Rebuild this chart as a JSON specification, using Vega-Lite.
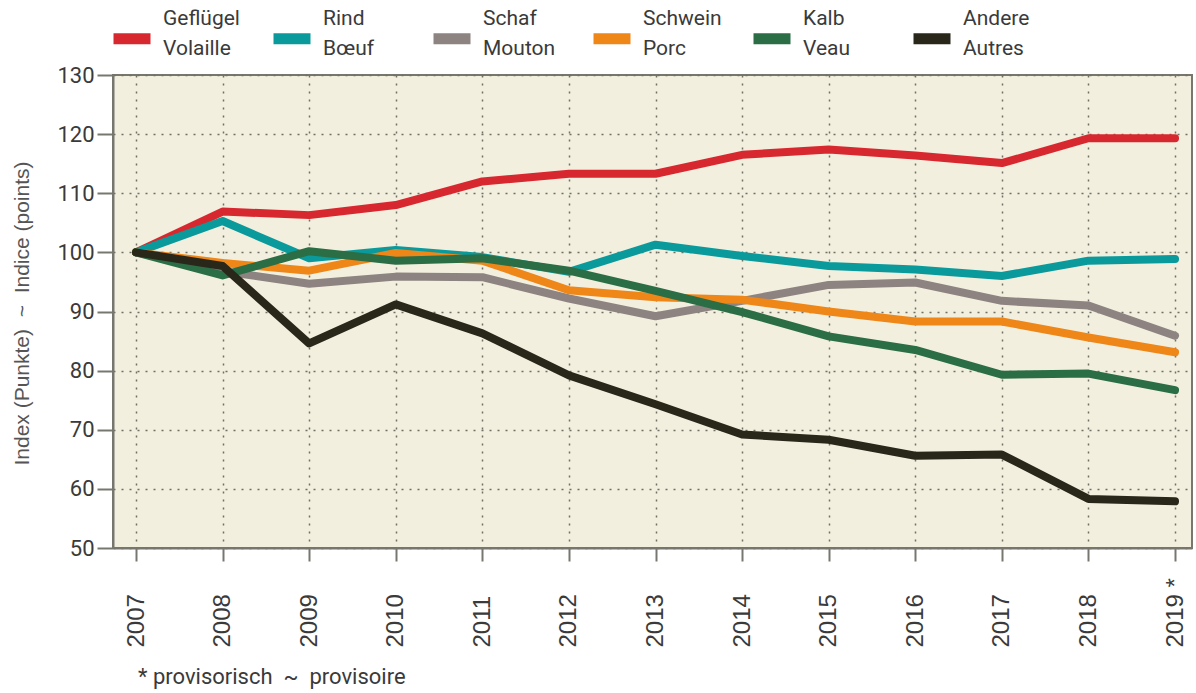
{
  "$schema": "https://vega.github.io/schema/vega-lite/v6.json",
  "width": 1079,
  "height": 473,
  "autosize": {"type": "none"},
  "padding": {"left": 113, "top": 75, "right": 4, "bottom": 145},
  "background": "white",
  "title": {
    "text": "* provisorisch\u00a0 ~ \u00a0provisoire",
    "orient": "bottom",
    "anchor": "start",
    "frame": "group",
    "dx": 25,
    "offset": 20,
    "font": "Roboto",
    "fontSize": 22,
    "fontWeight": "normal",
    "color": "#3a3a3a"
  },
  "data": {
    "values": [
      {"year": 2007, "series": "Geflügel / Volaille", "value": 100},
      {"year": 2008, "series": "Geflügel / Volaille", "value": 106.9},
      {"year": 2009, "series": "Geflügel / Volaille", "value": 106.3},
      {"year": 2010, "series": "Geflügel / Volaille", "value": 108},
      {"year": 2011, "series": "Geflügel / Volaille", "value": 112},
      {"year": 2012, "series": "Geflügel / Volaille", "value": 113.3},
      {"year": 2013, "series": "Geflügel / Volaille", "value": 113.3},
      {"year": 2014, "series": "Geflügel / Volaille", "value": 116.5},
      {"year": 2015, "series": "Geflügel / Volaille", "value": 117.4},
      {"year": 2016, "series": "Geflügel / Volaille", "value": 116.4},
      {"year": 2017, "series": "Geflügel / Volaille", "value": 115.1},
      {"year": 2018, "series": "Geflügel / Volaille", "value": 119.3},
      {"year": 2019, "series": "Geflügel / Volaille", "value": 119.3},
      {"year": 2007, "series": "Rind / Bœuf", "value": 100},
      {"year": 2008, "series": "Rind / Bœuf", "value": 105.3},
      {"year": 2009, "series": "Rind / Bœuf", "value": 99.0},
      {"year": 2010, "series": "Rind / Bœuf", "value": 100.4},
      {"year": 2011, "series": "Rind / Bœuf", "value": 99.2},
      {"year": 2012, "series": "Rind / Bœuf", "value": 96.7},
      {"year": 2013, "series": "Rind / Bœuf", "value": 101.3},
      {"year": 2014, "series": "Rind / Bœuf", "value": 99.4},
      {"year": 2015, "series": "Rind / Bœuf", "value": 97.7},
      {"year": 2016, "series": "Rind / Bœuf", "value": 97.1},
      {"year": 2017, "series": "Rind / Bœuf", "value": 96.0},
      {"year": 2018, "series": "Rind / Bœuf", "value": 98.6},
      {"year": 2019, "series": "Rind / Bœuf", "value": 98.9},
      {"year": 2007, "series": "Schaf / Mouton", "value": 100},
      {"year": 2008, "series": "Schaf / Mouton", "value": 96.8},
      {"year": 2009, "series": "Schaf / Mouton", "value": 94.7},
      {"year": 2010, "series": "Schaf / Mouton", "value": 95.9},
      {"year": 2011, "series": "Schaf / Mouton", "value": 95.8},
      {"year": 2012, "series": "Schaf / Mouton", "value": 92.2},
      {"year": 2013, "series": "Schaf / Mouton", "value": 89.2},
      {"year": 2014, "series": "Schaf / Mouton", "value": 91.8},
      {"year": 2015, "series": "Schaf / Mouton", "value": 94.5},
      {"year": 2016, "series": "Schaf / Mouton", "value": 94.9},
      {"year": 2017, "series": "Schaf / Mouton", "value": 91.8},
      {"year": 2018, "series": "Schaf / Mouton", "value": 91.0},
      {"year": 2019, "series": "Schaf / Mouton", "value": 85.9},
      {"year": 2007, "series": "Schwein / Porc", "value": 100},
      {"year": 2008, "series": "Schwein / Porc", "value": 98.2},
      {"year": 2009, "series": "Schwein / Porc", "value": 96.9},
      {"year": 2010, "series": "Schwein / Porc", "value": 99.9},
      {"year": 2011, "series": "Schwein / Porc", "value": 98.6},
      {"year": 2012, "series": "Schwein / Porc", "value": 93.6},
      {"year": 2013, "series": "Schwein / Porc", "value": 92.4},
      {"year": 2014, "series": "Schwein / Porc", "value": 92.0},
      {"year": 2015, "series": "Schwein / Porc", "value": 90.0},
      {"year": 2016, "series": "Schwein / Porc", "value": 88.3},
      {"year": 2017, "series": "Schwein / Porc", "value": 88.3},
      {"year": 2018, "series": "Schwein / Porc", "value": 85.6},
      {"year": 2019, "series": "Schwein / Porc", "value": 83.1},
      {"year": 2007, "series": "Kalb / Veau", "value": 100},
      {"year": 2008, "series": "Kalb / Veau", "value": 96.1},
      {"year": 2009, "series": "Kalb / Veau", "value": 100.2},
      {"year": 2010, "series": "Kalb / Veau", "value": 98.6},
      {"year": 2011, "series": "Kalb / Veau", "value": 99.0},
      {"year": 2012, "series": "Kalb / Veau", "value": 96.9},
      {"year": 2013, "series": "Kalb / Veau", "value": 93.5},
      {"year": 2014, "series": "Kalb / Veau", "value": 89.9},
      {"year": 2015, "series": "Kalb / Veau", "value": 85.8},
      {"year": 2016, "series": "Kalb / Veau", "value": 83.5},
      {"year": 2017, "series": "Kalb / Veau", "value": 79.3},
      {"year": 2018, "series": "Kalb / Veau", "value": 79.5},
      {"year": 2019, "series": "Kalb / Veau", "value": 76.7},
      {"year": 2007, "series": "Andere / Autres", "value": 100},
      {"year": 2008, "series": "Andere / Autres", "value": 97.7},
      {"year": 2009, "series": "Andere / Autres", "value": 84.6},
      {"year": 2010, "series": "Andere / Autres", "value": 91.2},
      {"year": 2011, "series": "Andere / Autres", "value": 86.3},
      {"year": 2012, "series": "Andere / Autres", "value": 79.2},
      {"year": 2013, "series": "Andere / Autres", "value": 74.3},
      {"year": 2014, "series": "Andere / Autres", "value": 69.2},
      {"year": 2015, "series": "Andere / Autres", "value": 68.3},
      {"year": 2016, "series": "Andere / Autres", "value": 65.6},
      {"year": 2017, "series": "Andere / Autres", "value": 65.8},
      {"year": 2018, "series": "Andere / Autres", "value": 58.3},
      {"year": 2019, "series": "Andere / Autres", "value": 57.9}
    ]
  },
  "mark": {"type": "line", "strokeWidth": 8, "strokeCap": "round", "strokeJoin": "round"},
  "encoding": {
    "x": {
      "field": "year",
      "type": "quantitative",
      "scale": {"domain": [2006.734, 2019.196], "nice": false, "zero": false},
      "axis": {
        "title": null,
        "values": [2007, 2008, 2009, 2010, 2011, 2012, 2013, 2014, 2015, 2016, 2017, 2018, 2019],
        "format": "d",
        "labelExpr": "datum.value == 2019 ? '2019 *' : datum.label",
        "labelAngle": 270,
        "labelAlign": "left",
        "labelBaseline": "middle",
        "labelPadding": 86,
        "labelFont": "Liberation Sans",
        "labelFontSize": 24,
        "labelColor": "#3a3a3a",
        "labelOverlap": false,
        "labelFlush": false,
        "tickSize": 13,
        "tickWidth": 2,
        "tickColor": "#77776f",
        "domainColor": "#77776f",
        "domainWidth": 2,
        "grid": true,
        "gridDash": [2, 6],
        "gridColor": "#6f6f66",
        "gridWidth": 1.5
      }
    },
    "y": {
      "field": "value",
      "type": "quantitative",
      "scale": {"domain": [50, 130], "nice": false, "zero": false},
      "axis": {
        "title": "Index (Punkte)\u00a0 ~ \u00a0Indice (points)",
        "titleX": -91,
        "titleY": 238,
        "titleAngle": 270,
        "titleAlign": "center",
        "titleBaseline": "middle",
        "titleFont": "Liberation Sans",
        "titleFontSize": 21,
        "titleFontWeight": "normal",
        "titleColor": "#555555",
        "values": [50, 60, 70, 80, 90, 100, 110, 120, 130],
        "labelFont": "Roboto",
        "labelFontSize": 22,
        "labelColor": "#3a3a3a",
        "labelPadding": 3,
        "tickSize": 16,
        "tickWidth": 2,
        "tickColor": "#77776f",
        "domainColor": "#77776f",
        "domainWidth": 2,
        "grid": true,
        "gridDash": [2, 6],
        "gridColor": "#6f6f66",
        "gridWidth": 1.5
      }
    },
    "stroke": {
      "field": "series",
      "type": "nominal",
      "sort": ["Geflügel / Volaille", "Rind / Bœuf", "Schaf / Mouton", "Schwein / Porc", "Kalb / Veau", "Andere / Autres"],
      "scale": {
        "domain": ["Geflügel / Volaille", "Rind / Bœuf", "Schaf / Mouton", "Schwein / Porc", "Kalb / Veau", "Andere / Autres"],
        "range": ["#d8282f", "#0a9a9b", "#8d8381", "#ef8618", "#2b6d44", "#29261a"]
      },
      "legend": {
        "title": null,
        "orient": "none",
        "legendX": -5,
        "legendY": -80,
        "direction": "horizontal",
        "columns": 6,
        "gridAlign": "all",
        "columnPadding": 9,
        "padding": 0,
        "symbolType": "M-1,1.05H1",
        "symbolSize": 1369,
        "symbolStrokeWidth": 11,
        "labelOffset": 7,
        "labelExpr": "split(datum.label, ' / ')",
        "labelFont": "Roboto",
        "labelFontSize": 21,
        "labelColor": "#3a3a3a",
        "labelBaseline": "middle",
        "labelLimit": 300
      }
    },
    "order": {"value": 0}
  },
  "config": {
    "view": {"fill": "#f2efdf", "stroke": "#77776f", "strokeWidth": 2},
    "style": {"guide-label": {"lineHeight": 30}}
  }
}
